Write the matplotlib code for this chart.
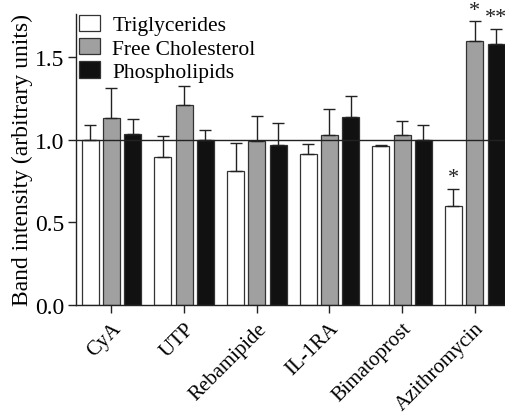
import numpy as np
import matplotlib.pyplot as plt

plt.rcParams['font.family'] = ['Liberation Serif', 'DejaVu Serif']

treatments = ['CyA', 'UTP', 'Rebamipide', 'IL-1RA', 'Bimatoprost', 'Azithromycin']
series = ['Triglycerides', 'Free Cholesterol', 'Phospholipids']

trig = [1.00, 0.895, 0.812, 0.911, 0.960, 0.600]
trig_err = [0.087, 0.127, 0.166, 0.061, 0.008, 0.103]
chol = [1.133, 1.208, 0.992, 1.030, 1.030, 1.596]
chol_err = [0.180, 0.113, 0.153, 0.156, 0.081, 0.119]
phos = [1.036, 1.000, 0.968, 1.135, 1.000, 1.580]
phos_err = [0.089, 0.059, 0.133, 0.130, 0.091, 0.091]

# significance marks: (treatment index, series index, label)
stars = [(5, 0, '*'), (5, 1, '*'), (5, 2, '**')]

colors = ['white', '#a0a0a0', '#111111']
values = [trig, chol, phos]
errors = [trig_err, chol_err, phos_err]

fig = plt.figure(figsize=(5.06, 4.14), dpi=100)
ax = fig.add_axes([0.150, 0.261, 0.850, 0.703])

x = np.arange(len(treatments))
pitch = 0.293
width = 0.234
for i, (vals, errs, col, name) in enumerate(zip(values, errors, colors, series)):
    pos = x + (i - 1) * pitch
    ax.bar(pos, vals, width, color=col, edgecolor='#333333', linewidth=0.9,
           label=name, zorder=2)
    ax.errorbar(pos, vals, yerr=[np.zeros(len(errs)), errs], fmt='none',
                ecolor='#222222', elinewidth=1.0, capsize=4, capthick=1.0, zorder=3)

for t, s, lab in stars:
    xx = x[t] + (s - 1) * pitch
    yy = values[s][t] + errors[s][t]
    ax.text(xx, yy + 0.01, lab, ha='center', va='bottom', fontsize=16, color='#222222')

ax.axhline(1.0, color='#222222', linewidth=1.0, zorder=4)

ax.set_xlim(-0.49, 5.43)
ax.set_ylim(0, 1.76)
ax.set_yticks([0, 0.5, 1.0, 1.5])
ax.set_yticklabels(['0.0', '0.5', '1.0', '1.5'], fontsize=17)
ax.set_xticks(x)
ax.set_xticklabels(treatments, rotation=45, ha='right', rotation_mode='anchor', fontsize=15)
ax.tick_params(axis='both', direction='out', length=6, width=1, color='#222222')
ax.tick_params(axis='y', pad=2)
ax.tick_params(axis='x', pad=4)
ax.set_ylabel('Band intensity (arbitrary units)', fontsize=17, labelpad=2)

for side in ['top', 'right']:
    ax.spines[side].set_visible(False)
for side in ['left', 'bottom']:
    ax.spines[side].set_linewidth(1.0)
    ax.spines[side].set_color('#222222')

ax.legend(loc='upper left', bbox_to_anchor=(0.156, 0.962), bbox_transform=fig.transFigure,
          frameon=False, fontsize=15.5, handlelength=1.0, handleheight=0.8,
          handletextpad=0.55, labelspacing=0.12, borderpad=0, borderaxespad=0)

fig.savefig('out.png', dpi=100)
